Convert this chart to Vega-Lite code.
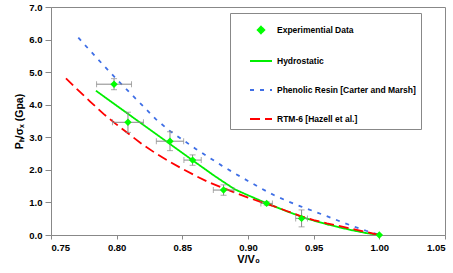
{
  "$schema": "https://vega.github.io/schema/vega-lite/v6.json",
  "width": 394,
  "height": 228,
  "autosize": {"type": "none"},
  "padding": {"left": 51, "top": 7, "right": 8, "bottom": 38},
  "background": "white",
  "config": {
    "view": {"stroke": "#888", "strokeWidth": 1},
    "font": "Liberation Sans",
    "axis": {
      "domainColor": "#888", "tickColor": "#888", "grid": false, "labelOverlap": false,
      "labelFont": "Liberation Sans", "labelFontWeight": "bold", "labelFontSize": 9.5, "labelColor": "#000",
      "titleFont": "Liberation Sans", "titleFontWeight": "bold", "titleColor": "#000"
    }
  },
  "datasets": {
    "curves": [
      {"series": "Hydrostatic", "v": 0.7842, "p": 4.43},
      {"series": "Hydrostatic", "v": 0.80, "p": 3.97},
      {"series": "Hydrostatic", "v": 0.82, "p": 3.39},
      {"series": "Hydrostatic", "v": 0.84, "p": 2.81},
      {"series": "Hydrostatic", "v": 0.86, "p": 2.23},
      {"series": "Hydrostatic", "v": 0.875, "p": 1.80},
      {"series": "Hydrostatic", "v": 0.89, "p": 1.40},
      {"series": "Hydrostatic", "v": 0.90, "p": 1.22},
      {"series": "Hydrostatic", "v": 0.915, "p": 0.96},
      {"series": "Hydrostatic", "v": 0.93, "p": 0.72},
      {"series": "Hydrostatic", "v": 0.945, "p": 0.50},
      {"series": "Hydrostatic", "v": 0.96, "p": 0.33},
      {"series": "Hydrostatic", "v": 0.97, "p": 0.23},
      {"series": "Hydrostatic", "v": 0.98, "p": 0.14},
      {"series": "Hydrostatic", "v": 0.99, "p": 0.06},
      {"series": "Hydrostatic", "v": 1.0, "p": 0.0},
      {"series": "Phenolic Resin [Carter and Marsh]", "v": 0.7708, "p": 6.06},
      {"series": "Phenolic Resin [Carter and Marsh]", "v": 0.78, "p": 5.65},
      {"series": "Phenolic Resin [Carter and Marsh]", "v": 0.79, "p": 5.21},
      {"series": "Phenolic Resin [Carter and Marsh]", "v": 0.80, "p": 4.78},
      {"series": "Phenolic Resin [Carter and Marsh]", "v": 0.81, "p": 4.37},
      {"series": "Phenolic Resin [Carter and Marsh]", "v": 0.82, "p": 3.96},
      {"series": "Phenolic Resin [Carter and Marsh]", "v": 0.83, "p": 3.55},
      {"series": "Phenolic Resin [Carter and Marsh]", "v": 0.84, "p": 3.21},
      {"series": "Phenolic Resin [Carter and Marsh]", "v": 0.85, "p": 2.93},
      {"series": "Phenolic Resin [Carter and Marsh]", "v": 0.86, "p": 2.65},
      {"series": "Phenolic Resin [Carter and Marsh]", "v": 0.87, "p": 2.39},
      {"series": "Phenolic Resin [Carter and Marsh]", "v": 0.88, "p": 2.13},
      {"series": "Phenolic Resin [Carter and Marsh]", "v": 0.89, "p": 1.89},
      {"series": "Phenolic Resin [Carter and Marsh]", "v": 0.90, "p": 1.66},
      {"series": "Phenolic Resin [Carter and Marsh]", "v": 0.91, "p": 1.43},
      {"series": "Phenolic Resin [Carter and Marsh]", "v": 0.92, "p": 1.22},
      {"series": "Phenolic Resin [Carter and Marsh]", "v": 0.93, "p": 1.04},
      {"series": "Phenolic Resin [Carter and Marsh]", "v": 0.94, "p": 0.88},
      {"series": "Phenolic Resin [Carter and Marsh]", "v": 0.95, "p": 0.73},
      {"series": "Phenolic Resin [Carter and Marsh]", "v": 0.96, "p": 0.58},
      {"series": "Phenolic Resin [Carter and Marsh]", "v": 0.97, "p": 0.42},
      {"series": "Phenolic Resin [Carter and Marsh]", "v": 0.98, "p": 0.27},
      {"series": "Phenolic Resin [Carter and Marsh]", "v": 0.99, "p": 0.13},
      {"series": "Phenolic Resin [Carter and Marsh]", "v": 1.0, "p": 0.0},
      {"series": "RTM-6 [Hazell et al.]", "v": 0.7614, "p": 4.81},
      {"series": "RTM-6 [Hazell et al.]", "v": 0.77, "p": 4.47},
      {"series": "RTM-6 [Hazell et al.]", "v": 0.78, "p": 4.09},
      {"series": "RTM-6 [Hazell et al.]", "v": 0.79, "p": 3.72},
      {"series": "RTM-6 [Hazell et al.]", "v": 0.80, "p": 3.39},
      {"series": "RTM-6 [Hazell et al.]", "v": 0.81, "p": 3.08},
      {"series": "RTM-6 [Hazell et al.]", "v": 0.82, "p": 2.77},
      {"series": "RTM-6 [Hazell et al.]", "v": 0.83, "p": 2.50},
      {"series": "RTM-6 [Hazell et al.]", "v": 0.84, "p": 2.26},
      {"series": "RTM-6 [Hazell et al.]", "v": 0.85, "p": 2.03},
      {"series": "RTM-6 [Hazell et al.]", "v": 0.86, "p": 1.82},
      {"series": "RTM-6 [Hazell et al.]", "v": 0.87, "p": 1.62},
      {"series": "RTM-6 [Hazell et al.]", "v": 0.88, "p": 1.46},
      {"series": "RTM-6 [Hazell et al.]", "v": 0.89, "p": 1.30},
      {"series": "RTM-6 [Hazell et al.]", "v": 0.90, "p": 1.15},
      {"series": "RTM-6 [Hazell et al.]", "v": 0.91, "p": 1.01},
      {"series": "RTM-6 [Hazell et al.]", "v": 0.92, "p": 0.88},
      {"series": "RTM-6 [Hazell et al.]", "v": 0.93, "p": 0.73},
      {"series": "RTM-6 [Hazell et al.]", "v": 0.94, "p": 0.58},
      {"series": "RTM-6 [Hazell et al.]", "v": 0.95, "p": 0.46},
      {"series": "RTM-6 [Hazell et al.]", "v": 0.96, "p": 0.36},
      {"series": "RTM-6 [Hazell et al.]", "v": 0.97, "p": 0.27},
      {"series": "RTM-6 [Hazell et al.]", "v": 0.98, "p": 0.18},
      {"series": "RTM-6 [Hazell et al.]", "v": 0.99, "p": 0.09},
      {"series": "RTM-6 [Hazell et al.]", "v": 1.0, "p": 0.0}
    ],
    "exp": [
      {"v": 0.798, "p": 4.63, "xlo": 0.7847, "xhi": 0.8113, "ylo": 4.46, "yhi": 4.80},
      {"v": 0.8086, "p": 3.46, "xlo": 0.7968, "xhi": 0.8204, "ylo": 3.15, "yhi": 3.77},
      {"v": 0.8406, "p": 2.88, "xlo": 0.8302, "xhi": 0.851, "ylo": 2.59, "yhi": 3.17},
      {"v": 0.8578, "p": 2.30, "xlo": 0.8512, "xhi": 0.8644, "ylo": 2.14, "yhi": 2.46},
      {"v": 0.8814, "p": 1.38, "xlo": 0.8736, "xhi": 0.8892, "ylo": 1.22, "yhi": 1.54},
      {"v": 0.9142, "p": 0.97, "xlo": 0.9098, "xhi": 0.9186, "ylo": 0.92, "yhi": 1.02},
      {"v": 0.9408, "p": 0.51, "xlo": 0.9363, "xhi": 0.9453, "ylo": 0.25, "yhi": 0.77},
      {"v": 1.0, "p": 0.0, "xlo": 1.0, "xhi": 1.0, "ylo": 0.0, "yhi": 0.0}
    ]
  },
  "layer": [
    {
      "data": {"name": "curves"},
      "mark": {"type": "line", "clip": true},
      "encoding": {
        "x": {
          "field": "v", "type": "quantitative", "title": "V/V₀",
          "scale": {"domain": [0.75, 1.05], "nice": false, "zero": false},
          "axis": {"values": [0.75, 0.8, 0.85, 0.9, 0.95, 1.0, 1.05], "format": ".2f", "tickSize": 4, "labelPadding": 3, "titleFontSize": 11, "titlePadding": 2}
        },
        "y": {
          "field": "p", "type": "quantitative", "title": "Pₕ/σₓ (Gpa)",
          "scale": {"domain": [0, 7], "nice": false},
          "axis": {"values": [0, 1, 2, 3, 4, 5, 6, 7], "format": ".1f", "tickSize": 6, "labelPadding": 3, "titleFontSize": 10.5, "titlePadding": 4, "labelOverlap": false}
        },
        "color": {
          "field": "series", "type": "nominal",
          "scale": {
            "domain": ["Experimential Data", "Hydrostatic", "Phenolic Resin [Carter and Marsh]", "RTM-6 [Hazell et al.]"],
            "range": ["#00ff00", "#00ee00", "#3f6fe6", "#ff0000"]
          },
          "legend": {
            "orient": "none", "legendX": 179, "legendY": 6,
            "title": null, "strokeColor": "#888", "fillColor": "#ffffff",
            "padding": 5, "symbolSize": 225, "symbolOffset": 14, "rowPadding": 12,
            "labelFont": "Liberation Sans", "labelFontWeight": "bold", "labelFontSize": 8.5, "labelColor": "#000",
            "labelOffset": 4, "labelLimit": 300,
            "encode": {
              "symbols": {
                "update": {
                  "shape": {"signal": "datum.value === 'Experimential Data' ? 'diamond' : 'stroke'"},
                  "size": {"signal": "datum.value === 'Experimential Data' ? 45 : 484"},
                  "fill": {"signal": "datum.value === 'Experimential Data' ? '#00ff00' : 'transparent'"},
                  "stroke": {"signal": "datum.value === 'Experimential Data' ? '#00ff00' : scale('color', datum.value)"},
                  "strokeWidth": {"signal": "datum.value === 'Experimential Data' ? 0 : datum.value === 'Hydrostatic' ? 1.8 : 2.8"},
                  "strokeDash": {"signal": "datum.value === 'Phenolic Resin [Carter and Marsh]' ? [4, 6] : datum.value === 'RTM-6 [Hazell et al.]' ? [10, 6] : [1, 0]"}
                }
              }
            }
          }
        },
        "strokeDash": {
          "field": "series", "type": "nominal",
          "scale": {
            "domain": ["Experimential Data", "Hydrostatic", "Phenolic Resin [Carter and Marsh]", "RTM-6 [Hazell et al.]"],
            "range": [[1, 0], [1, 0], [4, 6], [10, 5]]
          },
          "legend": null
        },
        "strokeWidth": {
          "field": "series", "type": "ordinal",
          "scale": {
            "domain": ["Experimential Data", "Hydrostatic", "Phenolic Resin [Carter and Marsh]", "RTM-6 [Hazell et al.]"],
            "range": [1.8, 1.8, 2.8, 2.8]
          },
          "legend": null
        },
        "order": {"field": "v", "type": "quantitative"}
      }
    },
    {
      "data": {"name": "exp"},
      "transform": [{"filter": "datum.xhi > datum.xlo"}],
      "mark": {"type": "errorbar", "ticks": {"size": 6, "color": "#888"}, "rule": {"color": "#888"}, "thickness": 1},
      "encoding": {
        "x": {"field": "xlo", "type": "quantitative", "title": "V/V₀",
          "axis": {"values": [0.75, 0.8, 0.85, 0.9, 0.95, 1.0, 1.05], "format": ".2f", "tickSize": 4, "labelPadding": 3, "titleFontSize": 11, "titlePadding": 2}},
        "x2": {"field": "xhi"},
        "y": {"field": "p", "type": "quantitative", "title": "Pₕ/σₓ (Gpa)",
          "axis": {"values": [0, 1, 2, 3, 4, 5, 6, 7], "format": ".1f", "tickSize": 6, "labelPadding": 3, "titleFontSize": 10.5, "titlePadding": 4, "labelOverlap": false}}
      }
    },
    {
      "data": {"name": "exp"},
      "transform": [{"filter": "datum.yhi > datum.ylo"}],
      "mark": {"type": "errorbar", "ticks": {"size": 6, "color": "#888"}, "rule": {"color": "#888"}, "thickness": 1},
      "encoding": {
        "y": {"field": "ylo", "type": "quantitative", "title": "Pₕ/σₓ (Gpa)",
          "axis": {"values": [0, 1, 2, 3, 4, 5, 6, 7], "format": ".1f", "tickSize": 6, "labelPadding": 3, "titleFontSize": 10.5, "titlePadding": 4, "labelOverlap": false}},
        "y2": {"field": "yhi"},
        "x": {"field": "v", "type": "quantitative", "title": "V/V₀",
          "axis": {"values": [0.75, 0.8, 0.85, 0.9, 0.95, 1.0, 1.05], "format": ".2f", "tickSize": 4, "labelPadding": 3, "titleFontSize": 11, "titlePadding": 2}}
      }
    },
    {
      "data": {"name": "exp"},
      "mark": {"type": "point", "shape": "diamond", "filled": true, "color": "#00ff00", "opacity": 1, "size": 55},
      "encoding": {
        "x": {"field": "v", "type": "quantitative", "title": "V/V₀",
          "axis": {"values": [0.75, 0.8, 0.85, 0.9, 0.95, 1.0, 1.05], "format": ".2f", "tickSize": 4, "labelPadding": 3, "titleFontSize": 11, "titlePadding": 2}},
        "y": {"field": "p", "type": "quantitative", "title": "Pₕ/σₓ (Gpa)",
          "axis": {"values": [0, 1, 2, 3, 4, 5, 6, 7], "format": ".1f", "tickSize": 6, "labelPadding": 3, "titleFontSize": 10.5, "titlePadding": 4, "labelOverlap": false}}
      }
    }
  ]
}
